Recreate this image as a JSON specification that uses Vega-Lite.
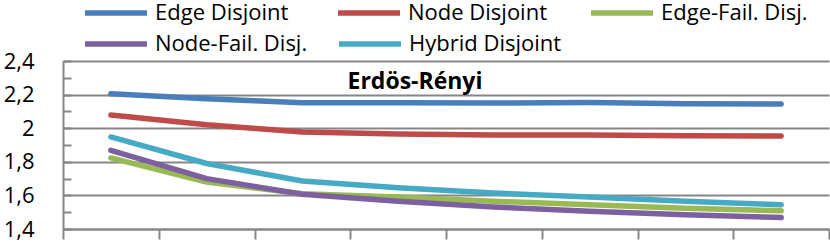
{
  "$schema": "https://vega.github.io/schema/vega-lite/v6.json",
  "width": 766,
  "height": 168,
  "autosize": {"type": "none"},
  "padding": {"left": 63, "top": 61, "right": 1, "bottom": 15},
  "background": "white",
  "config": {
    "view": {"stroke": null},
    "font": "Open Sans",
    "legend": {
      "title": null,
      "orient": "none",
      "direction": "horizontal",
      "columns": 3,
      "gridAlign": "all",
      "columnPadding": 20,
      "symbolType": "stroke",
      "symbolSize": 3844,
      "symbolStrokeWidth": 5.5,
      "labelFont": "Open Sans",
      "labelFontSize": 22,
      "labelColor": "black",
      "labelOffset": 5,
      "labelLimit": 300
    }
  },
  "title": {
    "text": "Erdös-Rényi",
    "font": "Open Sans",
    "fontSize": 23,
    "fontWeight": "bold",
    "color": "black",
    "anchor": "middle",
    "frame": "group",
    "dx": -31,
    "offset": -30,
    "dy": 85
  },
  "data": {
    "values": [
      {"x": 1, "series": "Edge Disjoint", "value": 2.205},
      {"x": 2, "series": "Edge Disjoint", "value": 2.175},
      {"x": 3, "series": "Edge Disjoint", "value": 2.152},
      {"x": 4, "series": "Edge Disjoint", "value": 2.152},
      {"x": 5, "series": "Edge Disjoint", "value": 2.15},
      {"x": 6, "series": "Edge Disjoint", "value": 2.153},
      {"x": 7, "series": "Edge Disjoint", "value": 2.145},
      {"x": 8, "series": "Edge Disjoint", "value": 2.144},
      {"x": 1, "series": "Node Disjoint", "value": 2.079},
      {"x": 2, "series": "Node Disjoint", "value": 2.02},
      {"x": 3, "series": "Node Disjoint", "value": 1.977},
      {"x": 4, "series": "Node Disjoint", "value": 1.965},
      {"x": 5, "series": "Node Disjoint", "value": 1.959},
      {"x": 6, "series": "Node Disjoint", "value": 1.959},
      {"x": 7, "series": "Node Disjoint", "value": 1.955},
      {"x": 8, "series": "Node Disjoint", "value": 1.954},
      {"x": 1, "series": "Edge-Fail. Disj.", "value": 1.823},
      {"x": 2, "series": "Edge-Fail. Disj.", "value": 1.68},
      {"x": 3, "series": "Edge-Fail. Disj.", "value": 1.61},
      {"x": 4, "series": "Edge-Fail. Disj.", "value": 1.59},
      {"x": 5, "series": "Edge-Fail. Disj.", "value": 1.565},
      {"x": 6, "series": "Edge-Fail. Disj.", "value": 1.545},
      {"x": 7, "series": "Edge-Fail. Disj.", "value": 1.524},
      {"x": 8, "series": "Edge-Fail. Disj.", "value": 1.508},
      {"x": 1, "series": "Node-Fail. Disj.", "value": 1.868},
      {"x": 2, "series": "Node-Fail. Disj.", "value": 1.7},
      {"x": 3, "series": "Node-Fail. Disj.", "value": 1.607},
      {"x": 4, "series": "Node-Fail. Disj.", "value": 1.565},
      {"x": 5, "series": "Node-Fail. Disj.", "value": 1.531},
      {"x": 6, "series": "Node-Fail. Disj.", "value": 1.505},
      {"x": 7, "series": "Node-Fail. Disj.", "value": 1.485},
      {"x": 8, "series": "Node-Fail. Disj.", "value": 1.468},
      {"x": 1, "series": "Hybrid Disjoint", "value": 1.948},
      {"x": 2, "series": "Hybrid Disjoint", "value": 1.79},
      {"x": 3, "series": "Hybrid Disjoint", "value": 1.686},
      {"x": 4, "series": "Hybrid Disjoint", "value": 1.646},
      {"x": 5, "series": "Hybrid Disjoint", "value": 1.614},
      {"x": 6, "series": "Hybrid Disjoint", "value": 1.59},
      {"x": 7, "series": "Hybrid Disjoint", "value": 1.565},
      {"x": 8, "series": "Hybrid Disjoint", "value": 1.545}
    ]
  },
  "encoding": {
    "x": {
      "field": "x",
      "type": "quantitative",
      "scale": {"domain": [0.5, 8.5], "nice": false, "zero": false},
      "axis": {
        "title": null,
        "values": [0.5, 1.5, 2.5, 3.5, 4.5, 5.5, 6.5, 7.5, 8.5],
        "labels": false,
        "grid": false,
        "domainColor": "#868686",
        "domainWidth": 2,
        "tickColor": "#868686",
        "tickWidth": 2,
        "tickSize": 10
      }
    },
    "y": {
      "field": "value",
      "type": "quantitative",
      "scale": {"domain": [1.4, 2.4], "nice": false, "zero": false},
      "axis": {
        "title": null,
        "values": [1.4, 1.5, 1.6, 1.7, 1.8, 1.9, 2.0, 2.1, 2.2, 2.3, 2.4],
        "labelExpr": "round(datum.value*10)%2==0 ? replace(format(datum.value,'.2~f'),'.',',') : ''",
        "labelFont": "Open Sans",
        "labelFontSize": 22,
        "labelColor": "black",
        "labelPadding": 37,
        "grid": true,
        "gridColor": "#868686",
        "gridWidth": 2,
        "gridOpacity": {"condition": {"test": "round(datum.value*10)%2==1", "value": 0}, "value": 1},
        "domainColor": "#868686",
        "domainWidth": 2,
        "tickColor": "#868686",
        "tickWidth": 2,
        "tickSize": -8
      }
    }
  },
  "layer": [
    {
      "transform": [{"filter": {"field": "series", "oneOf": ["Edge Disjoint", "Node Disjoint", "Edge-Fail. Disj."]}}],
      "mark": {"type": "line", "strokeWidth": 5.5, "strokeCap": "round", "strokeJoin": "round"},
      "encoding": {
        "color": {
          "field": "series",
          "type": "nominal",
          "scale": {
            "domain": ["Edge Disjoint", "Node Disjoint", "Edge-Fail. Disj."],
            "range": ["#4A7EBB", "#BE4B48", "#98B954"]
          },
          "legend": {"legendX": 19, "legendY": -82, "columnPadding": 25}
        }
      }
    },
    {
      "transform": [{"filter": {"field": "series", "oneOf": ["Node-Fail. Disj.", "Hybrid Disjoint"]}}],
      "mark": {"type": "line", "strokeWidth": 5.5, "strokeCap": "round", "strokeJoin": "round"},
      "encoding": {
        "color": {
          "field": "series",
          "type": "nominal",
          "scale": {
            "domain": ["Node-Fail. Disj.", "Hybrid Disjoint"],
            "range": ["#7D60A0", "#46AAC5"]
          },
          "legend": {"legendX": 19, "legendY": -51}
        }
      }
    }
  ],
  "resolve": {"scale": {"color": "independent"}, "legend": {"color": "independent"}}
}
